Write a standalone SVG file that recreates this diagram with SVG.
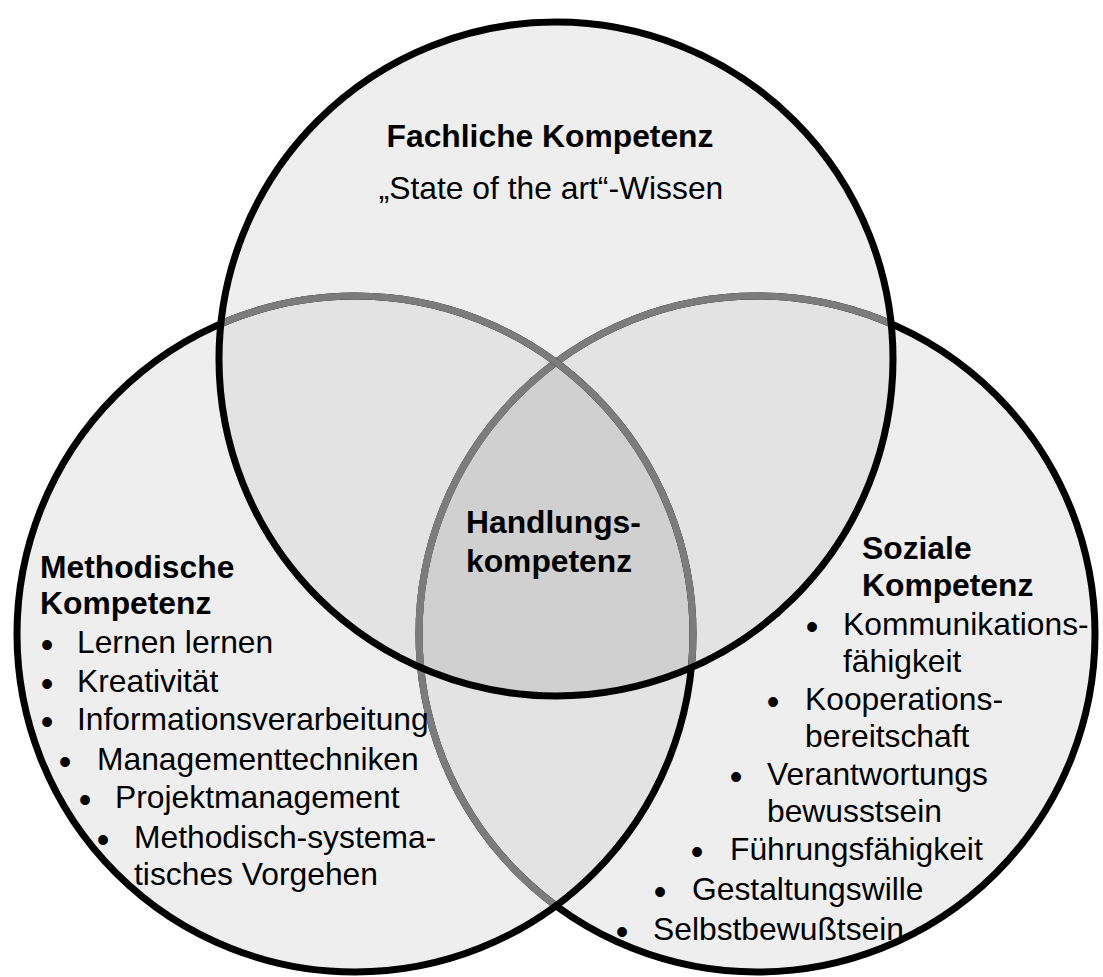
<svg xmlns="http://www.w3.org/2000/svg" width="1103" height="977" viewBox="0 0 1103 977">
  <style>
    text { font-family: "Liberation Sans", Arial, sans-serif; font-size: 31.8px; fill: #000; }
    .b { font-weight: bold; }
    .mid { text-anchor: middle; }
    .bul { font-size: 36px; }
    .fill1 { fill: #eeeeee; stroke: none; }
    .fill2 { fill: #e3e3e3; stroke: none; }
    .fill3 { fill: #d0d0d0; stroke: none; }
    .edge { fill: none; stroke: #000; stroke-width: 7; }
    .edge-hidden { fill: none; stroke: #7c7c7c; stroke-width: 7; }
  </style>
  <defs>
    <clipPath id="clipT"><circle cx="556" cy="359" r="337"/></clipPath>
    <clipPath id="clipL"><circle cx="355" cy="634" r="338"/></clipPath>
    <clipPath id="clipR"><circle cx="757" cy="634" r="338"/></clipPath>
  </defs>
  <rect width="1103" height="977" fill="#ffffff"/>

  <g id="circles">
    <circle class="fill1" cx="757" cy="634" r="338"/>
    <circle class="fill1" cx="355" cy="634" r="338"/>
    <circle class="fill1" cx="556" cy="359" r="337"/>
    <circle class="fill2" cx="757" cy="634" r="338" clip-path="url(#clipL)"/>
    <circle class="fill2" cx="556" cy="359" r="337" clip-path="url(#clipL)"/>
    <circle class="fill2" cx="556" cy="359" r="337" clip-path="url(#clipR)"/>
    <g clip-path="url(#clipL)">
      <circle class="fill3" cx="556" cy="359" r="337" clip-path="url(#clipR)"/>
    </g>
    <circle class="edge" cx="757" cy="634" r="338"/>
    <circle class="edge-hidden" cx="757" cy="634" r="338" clip-path="url(#clipL)"/>
    <circle class="edge-hidden" cx="757" cy="634" r="338" clip-path="url(#clipT)"/>
    <circle class="edge" cx="355" cy="634" r="338"/>
    <circle class="edge-hidden" cx="355" cy="634" r="338" clip-path="url(#clipT)"/>
    <circle class="edge" cx="556" cy="359" r="337"/>
  </g>

  <g id="connectors"/>

  <g id="node-fachliche-kompetenz">
    <text class="b mid" x="550" y="147">Fachliche Kompetenz</text>
    <text class="mid" x="551" y="199">„State of the art“-Wissen</text>
  </g>

  <g id="node-handlungskompetenz">
    <text class="b" x="466" y="533">Handlungs-</text>
    <text class="b" x="466" y="572">kompetenz</text>
  </g>

  <g id="node-methodische-kompetenz">
    <text class="b" x="40" y="578">Methodische</text>
    <text class="b" x="40" y="614">Kompetenz</text>
    <text class="bul" x="40.7" y="657">•</text><text x="77" y="653">Lernen lernen</text>
    <text class="bul" x="40.7" y="696">•</text><text x="77" y="692">Kreativität</text>
    <text class="bul" x="40.7" y="734">•</text><text x="77" y="730">Informationsverarbeitung</text>
    <text class="bul" x="58.7" y="774">•</text><text x="97" y="770">Managementtechniken</text>
    <text class="bul" x="78.7" y="812">•</text><text x="115" y="808">Projektmanagement</text>
    <text class="bul" x="96.7" y="852">•</text><text x="134" y="848">Methodisch-systema-</text>
    <text x="134" y="885">tisches Vorgehen</text>
  </g>

  <g id="node-soziale-kompetenz">
    <text class="b" x="862" y="559">Soziale</text>
    <text class="b" x="862" y="596">Kompetenz</text>
    <text class="bul" x="805.7" y="639">•</text><text x="843" y="635">Kommunikations-</text>
    <text x="843" y="672">fähigkeit</text>
    <text class="bul" x="766.7" y="714">•</text><text x="805" y="710">Kooperations-</text>
    <text x="805" y="747">bereitschaft</text>
    <text class="bul" x="729.7" y="789">•</text><text x="767" y="785">Verantwortungs</text>
    <text x="767" y="822">bewusstsein</text>
    <text class="bul" x="690.7" y="864">•</text><text x="730" y="860">Führungsfähigkeit</text>
    <text class="bul" x="653.7" y="904">•</text><text x="692" y="900">Gestaltungswille</text>
    <text class="bul" x="615.7" y="944">•</text><text x="653" y="940">Selbstbewußtsein</text>
  </g>
</svg>
